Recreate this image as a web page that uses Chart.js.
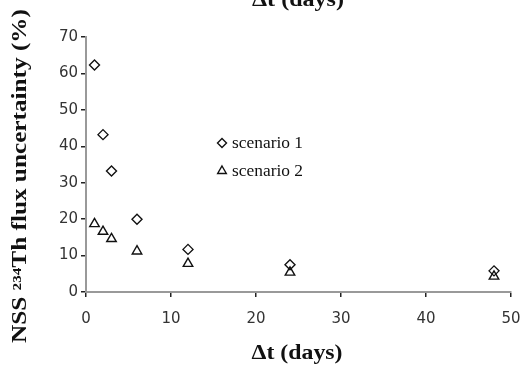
<!DOCTYPE html>
<html>
<head>
<meta charset="utf-8">
<script src="https://cdn.jsdelivr.net/npm/chart.js@4/dist/chart.umd.min.js"></script>
<style>
  html, body { margin: 0; padding: 0; background: #fff; }
  #wrap { width: 521px; height: 367px; }
</style>
</head>
<body>
<div id="wrap"><canvas id="chart" width="521" height="367"></canvas></div>
<script>
const deltaT = [1, 2, 3, 6, 12, 24, 48];
const scenario1 = [62.3, 43.2, 33.2, 20.0, 11.7, 7.5, 5.8];
const scenario2 = [18.7, 16.6, 14.6, 11.2, 7.8, 5.4, 4.3];
const xTicks = [0, 10, 20, 30, 40, 50];
const yTicks = [0, 10, 20, 30, 40, 50, 60, 70];
const seriesNames = ['scenario 1', 'scenario 2'];

const serif = '"Liberation Serif", "DejaVu Serif", serif';
const sans = '"DejaVu Sans", Verdana, sans-serif';

function toPoints(xs, ys) {
    return xs.map((x, i) => ({ x: x, y: ys[i] }));
}

// text stretched to a given length, like the scanned figure
function stretchText(ctx, text, cx, cy, len, angle) {
    ctx.save();
    ctx.translate(cx, cy);
    ctx.rotate(angle);
    const w = ctx.measureText(text).width;
    ctx.scale(len / w, 1);
    ctx.fillText(text, 0, 0);
    ctx.restore();
}

const extras = {
    id: 'extras',
    afterDraw(chart) {
        const ctx = chart.ctx;
        ctx.save();
        ctx.fillStyle = '#111';
        ctx.textAlign = 'center';
        ctx.textBaseline = 'alphabetic';
        ctx.font = 'bold 20px ' + serif;
        // title cut off at the top edge
        stretchText(ctx, '\u0394t (days)', 298, 6, 92, 0);
        // x axis title
        stretchText(ctx, '\u0394t (days)', 297, 359, 91, 0);
        // y axis title
        ctx.textBaseline = 'middle';
        stretchText(ctx, 'NSS \u00b2\u00b3\u2074Th flux uncertainty (%)', 21, 176, 334, -Math.PI / 2);

        // legend
        const styles = ['rectRot', 'triangle'];
        const radii = [4.5, 5];
        const rows = [143, 171];
        ctx.font = '16px ' + serif;
        ctx.textAlign = 'left';
        ctx.textBaseline = 'middle';
        seriesNames.forEach((name, i) => {
            ctx.strokeStyle = '#111';
            ctx.fillStyle = 'rgba(0,0,0,0)';
            ctx.lineWidth = 1.4;
            Chart.helpers.drawPoint(ctx, { pointStyle: styles[i], radius: radii[i], borderWidth: 1.4 }, 222, rows[i]);
            ctx.fillStyle = '#111';
            stretchText(ctx, name, 232, rows[i] + 1, 71, 0);
        });
        ctx.restore();
    }
};

new Chart(document.getElementById('chart'), {
    type: 'scatter',
    data: {
        datasets: [{
            label: seriesNames[0],
            data: toPoints(deltaT, scenario1),
            pointStyle: 'rectRot',
            pointRadius: 5,
            backgroundColor: 'rgba(0,0,0,0)',
            borderColor: '#111',
            borderWidth: 1.4
        }, {
            label: seriesNames[1],
            data: toPoints(deltaT, scenario2),
            pointStyle: 'triangle',
            pointRadius: 5.5,
            backgroundColor: 'rgba(0,0,0,0)',
            borderColor: '#111',
            borderWidth: 1.4
        }]
    },
    options: {
        responsive: false,
        animation: false,
        layout: { padding: { top: 37, right: 10, left: 0, bottom: 0 } },
        plugins: {
            legend: { display: false },
            tooltip: { enabled: false }
        },
        scales: {
            x: {
                type: 'linear',
                min: 0,
                max: 50,
                afterBuildTicks: axis => { axis.ticks = xTicks.map(v => ({ value: v })); },
                afterFit: axis => {
                    axis.height = 75;
                    axis.paddingLeft = 0;
                    axis.paddingRight = 0;
                },
                grid: {
                    display: true,
                    drawOnChartArea: false,
                    drawTicks: true,
                    tickLength: 5,
                    color: '#222',
                    lineWidth: 1.5
                },
                border: { display: true, color: '#999', width: 2 },
                ticks: {
                    color: '#333',
                    font: { family: sans, size: 15 },
                    padding: 13,
                    maxRotation: 0
                }
            },
            y: {
                type: 'linear',
                min: 0,
                max: 70,
                afterBuildTicks: axis => { axis.ticks = yTicks.map(v => ({ value: v })); },
                afterFit: axis => {
                    axis.width = 86;
                    axis.paddingTop = 0;
                    axis.paddingBottom = 0;
                },
                grid: {
                    display: true,
                    drawOnChartArea: false,
                    drawTicks: true,
                    tickLength: 5,
                    color: '#222',
                    lineWidth: 1.5
                },
                border: { display: true, color: '#999', width: 2 },
                ticks: {
                    color: '#333',
                    font: { family: sans, size: 15 },
                    padding: 3
                }
            }
        }
    },
    plugins: [extras]
});
</script>
</body>
</html>
